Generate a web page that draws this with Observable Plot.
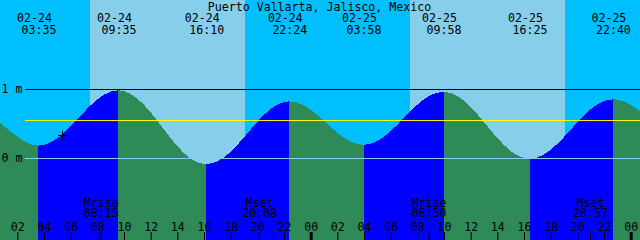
<!DOCTYPE html>
<html><head><meta charset="utf-8">
<script src="https://cdn.jsdelivr.net/npm/d3@7"></script>
<script src="https://cdn.jsdelivr.net/npm/@observablehq/plot@0.6"></script>
<style>
html,body{margin:0;padding:0;background:#fff;}
svg{display:block;}
</style>
</head><body><div id="chart"></div>
<script>
// ---- data (hours since 02-24 00:00, levels in metres) ----
const title = "Puerto Vallarta, Jalisco, Mexico";

const sampleHours = [0,1,2,3,4,5,6,7,8,9,10,11,12,13,14,15,16,17,18,19,20,21,22,23,24,
  25,26,27,28,29,30,31,32,33,34,35,36,37,38,39,40,41,42,43,44,45,46,47,48,49];
const sampleLevels = [0.638,0.460,0.310,0.197,0.190,0.285,0.460,0.666,0.850,0.962,
  0.969,0.862,0.662,0.413,0.171,-0.009,-0.088,-0.050,0.091,0.300,0.526,0.712,0.811,
  0.802,0.700,0.537,0.365,0.236,0.190,0.245,0.388,0.582,0.773,0.912,0.960,0.900,
  0.741,0.520,0.289,0.101,0.000,0.008,0.119,0.304,0.518,0.708,0.826,0.845,0.772,0.632];

const extremeHours  = [-2.2, 3.583, 9.583, 16.167, 22.4, 27.967, 33.967, 40.417, 46.667, 52.6];
const extremeLevels = [0.85, 0.18, 0.98, -0.09, 0.82, 0.19, 0.96, -0.01, 0.85, 0.20];
const extremeDates  = ["02-23","02-24","02-24","02-24","02-24","02-25","02-25","02-25","02-25","02-26"];
const extremeClock  = ["21:48","03:35","09:35","16:10","22:24","03:58","09:58","16:25","22:40","04:36"];

const sunHours = [7.42, 19.05, 31.42, 43.05];      // sunrise, sunset, sunrise, sunset

const moonHours = [8.25, 20.133, 32.833, 44.95];
const moonNames = ["Mrise","Mset","Mrise","Mset"];
const moonClock = ["08:15","20:08","08:50","20:57"];

const tickHours  = [2,4,6,8,10,12,14,16,18,20,22,24,26,28,30,32,34,36,38,40,42,44,46,48];
const tickLabels = ["02","04","06","08","10","12","14","16","18","20","22","00",
                    "02","04","06","08","10","12","14","16","18","20","22","00"];

const refLevels = [1, 0.55, 0];
const refLabels = ["1 m", "", "0 m"];

const markHour = 5.35, markLevel = 0.335;

// ---- build tables ----
const xDomain = [0.7, 48.7];
const yDomain = [-82/69, 158/69];
const FONT = "DejaVu Sans Mono";
const FS = 11.6;

const extremes = extremeHours.map((t,i)=>({t, h: extremeLevels[i], date: extremeDates[i], clock: extremeClock[i]}));
const samples = sampleHours.map((t,i)=>({t, h: sampleLevels[i]}));
const segs = [];
for (let i = 0; i < extremes.length - 1; i++) {
  const a = extremes[i], b = extremes[i+1];
  const rising = b.h > a.h;
  const pts = [a, ...samples.filter(s => s.t > a.t && s.t < b.t), b];
  for (const p of pts) segs.push({t: p.t, h: p.h, seg: i, rising});
}
const bounds = [xDomain[0] - 1, ...sunHours, xDomain[1] + 1];
const sky = [];
for (let i = 0; i < bounds.length - 1; i++) sky.push({a: bounds[i], b: bounds[i+1], day: i % 2 === 1});

const visExt = extremes.filter(d => d.t > xDomain[0] && d.t < xDomain[1]);
const moons = moonHours.map((t,i)=>({t, name: moonNames[i], clock: moonClock[i]}));
const ticks = tickHours.map((t,i)=>({t, label: tickLabels[i], midnight: tickLabels[i] === "00"}));
const refs = refLevels.map((h,i)=>({h, label: refLabels[i]}));

const plusSymbol = {
  draw(ctx, size) {
    const r = Math.sqrt(size / Math.PI);
    ctx.moveTo(-r, 0); ctx.lineTo(r, 0);
    ctx.moveTo(0, -r); ctx.lineTo(0, r);
  }
};

const txt = {fontFamily: FONT, fontSize: FS, fill: "black", lineAnchor: "middle"};

const chart = Plot.plot({
  width: 640, height: 240, margin: 0,
  x: {domain: xDomain, axis: null},
  y: {domain: yDomain, axis: null},
  style: {background: "none", fontFamily: FONT, fontSize: FS + "px"},
  marks: [
    Plot.rect(sky.filter(d => !d.day), {x1: "a", x2: "b", fill: "#00BFFF", shapeRendering: "crispEdges", clip: true}),
    Plot.rect(sky.filter(d => d.day), {x1: "a", x2: "b", fill: "#87CEEB", shapeRendering: "crispEdges", clip: true}),
    Plot.areaY(segs.filter(d => !d.rising), {x: "t", y1: yDomain[0], y2: "h", z: "seg", fill: "#2E8B57", curve: "monotone-x", shapeRendering: "crispEdges", clip: true}),
    Plot.areaY(segs.filter(d => d.rising), {x: "t", y1: yDomain[0], y2: "h", z: "seg", fill: "#0000FF", curve: "monotone-x", shapeRendering: "crispEdges", clip: true}),
    Plot.ruleY(refs.filter(d => d.h === 1), {y: "h", stroke: "black", insetLeft: 25}),
    Plot.ruleY(refs.filter(d => d.h === 0), {y: "h", stroke: "#87CEEB", insetLeft: 25}),
    Plot.ruleY(refs.filter(d => d.h !== 0 && d.h !== 1), {y: "h", stroke: "yellow", insetLeft: 25}),
    Plot.text(refs.filter(d => d.label), {y: "h", text: "label", frameAnchor: "left", textAnchor: "start", dx: 1, ...txt}),
    Plot.dot([{t: markHour, h: markLevel}], {x: "t", y: "h", r: 4.5, symbol: plusSymbol, stroke: "black", fill: "none", strokeWidth: 1}),
    Plot.text([title], {text: d => d, frameAnchor: "top", dy: 6.3, dx: -1, ...txt}),
    Plot.text(visExt, {x: "t", text: "date", frameAnchor: "top", dy: 17.8, dx: -4.5, ...txt}),
    Plot.text(visExt, {x: "t", text: "clock", frameAnchor: "top", dy: 29.6, ...txt}),
    Plot.text(moons, {x: "t", text: "name", frameAnchor: "top", dy: 202.5, ...txt}),
    Plot.text(moons, {x: "t", text: "clock", frameAnchor: "top", dy: 213, ...txt}),
    Plot.text(ticks, {x: "t", text: "label", frameAnchor: "top", dy: 226.3, ...txt}),
    Plot.ruleX(ticks.filter(d => !d.midnight), {x: "t", stroke: "black", insetTop: 232}),
    Plot.ruleX(ticks.filter(d => d.midnight), {x: "t", stroke: "black", strokeWidth: 3, insetTop: 232}),
    Plot.ruleX(moons, {x: "t", stroke: "black", insetTop: 232})
  ]
});
document.getElementById("chart").appendChild(chart);
</script>
</body></html>
